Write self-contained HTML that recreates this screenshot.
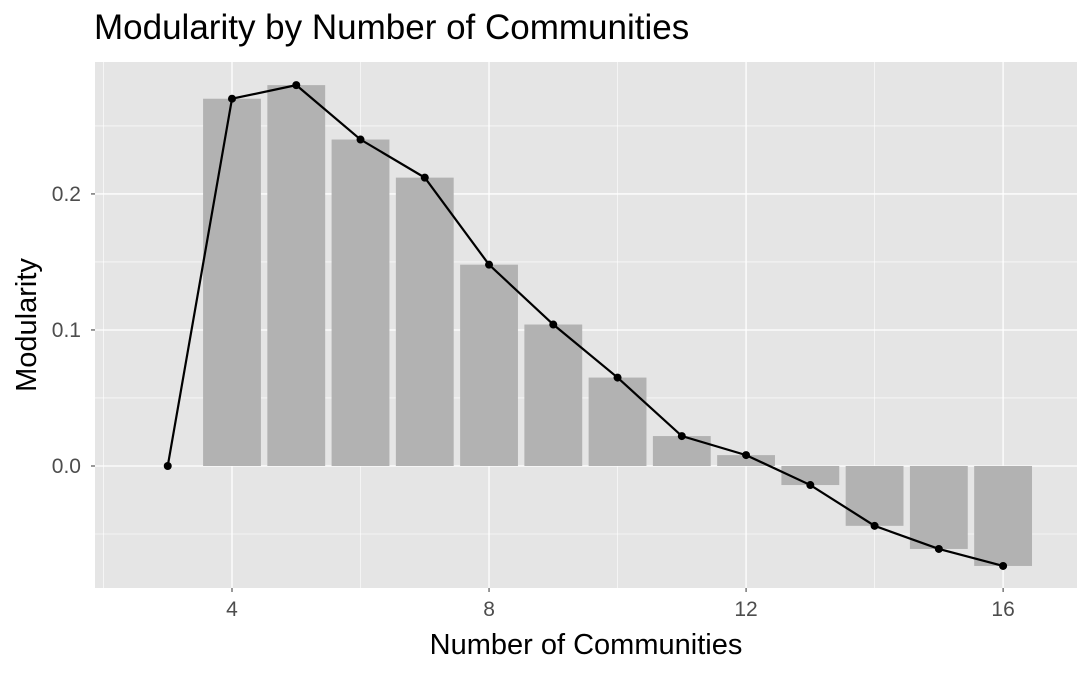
<!DOCTYPE html>
<html><head><meta charset="utf-8"><style>
body{margin:0;background:#fff;font-family:"Liberation Sans",sans-serif;}
svg{display:block}
</style></head><body>
<svg id="chart" width="1092" height="674">
<text x="94" y="39" font-size="35" fill="#000">Modularity by Number of Communities</text>
<rect x="95" y="62" width="982" height="526" fill="#e5e5e5"/>
<g id="grid"></g><g id="bars"></g><g id="line"></g><g id="axes"></g>
<text x="586" y="654" font-size="29" text-anchor="middle">Number of Communities</text>
<text transform="translate(36,325) rotate(-90)" font-size="29" text-anchor="middle">Modularity</text>
</svg>
<script>
const categories=[3,4,5,6,7,8,9,10,11,12,13,14,15,16];
const modularity=[0,0.270,0.280,0.240,0.212,0.148,0.104,0.065,0.022,0.008,-0.014,-0.044,-0.061,-0.0735];
const xTicks=[4,8,12,16];
const xMinor=[2,6,10,14];
const yTicks=[0,0.1,0.2];
const yTickLabels=["0.0","0.1","0.2"];
const yMinor=[-0.05,0.05,0.15,0.25];
const NS="http://www.w3.org/2000/svg";
const L=95,R=1077,T=62,B=588,xmin=1.868,xmax=17.15,ymin=-0.0897,ymax=0.297;
const xs=v=>L+(v-xmin)/(xmax-xmin)*(R-L);
const ys=v=>B-(v-ymin)/(ymax-ymin)*(B-T);
function mk(tag,attrs,parent){const e=document.createElementNS(NS,tag);for(const k in attrs)e.setAttribute(k,attrs[k]);document.getElementById(parent).appendChild(e);return e;}
xMinor.forEach(v=>{const e=mk('line',{x1:xs(v),x2:xs(v),y1:T,y2:B,stroke:'#fff','stroke-width':0.6},'grid');

});
yMinor.forEach(v=>{const e=mk('line',{x1:L,x2:R,y1:ys(v),y2:ys(v),stroke:'#fff','stroke-width':0.6},'grid');

});
xTicks.forEach(v=>{const e=mk('line',{x1:xs(v),x2:xs(v),y1:T,y2:B,stroke:'#fff','stroke-width':1.3},'grid');


const t=mk('line',{x1:xs(v),x2:xs(v),y1:B,y2:B+4,stroke:'#333','stroke-width':1},'axes');


const l=mk('text',{x:xs(v),y:B+28,'font-size':21,fill:'#4d4d4d','text-anchor':'middle'},'axes');l.textContent=v;

});
yTicks.forEach((v,i)=>{const e=mk('line',{x1:L,x2:R,y1:ys(v),y2:ys(v),stroke:'#fff','stroke-width':1.3},'grid');


const t=mk('line',{x1:L-4,x2:L,y1:ys(v),y2:ys(v),stroke:'#333','stroke-width':1},'axes');


const l=mk('text',{x:L-14,y:ys(v)+7,'font-size':21,fill:'#4d4d4d','text-anchor':'end'},'axes');l.textContent=yTickLabels[i];

});
categories.forEach((c,i)=>{const v=modularity[i];const y0=ys(0),y1=ys(v);
const b=mk('rect',{x:xs(c-0.45),width:xs(c+0.45)-xs(c-0.45),y:Math.min(y0,y1),height:Math.abs(y1-y0),fill:'#b2b2b2'},'bars');

});
const pl=mk('polyline',{points:categories.map((c,i)=>xs(c)+','+ys(modularity[i])).join(' '),fill:'none',stroke:'#000','stroke-width':2.2},'line');


categories.forEach((c,i)=>{const p=mk('circle',{cx:xs(c),cy:ys(modularity[i]),r:4,fill:'#000'},'line');

});
</script>
</body></html>
